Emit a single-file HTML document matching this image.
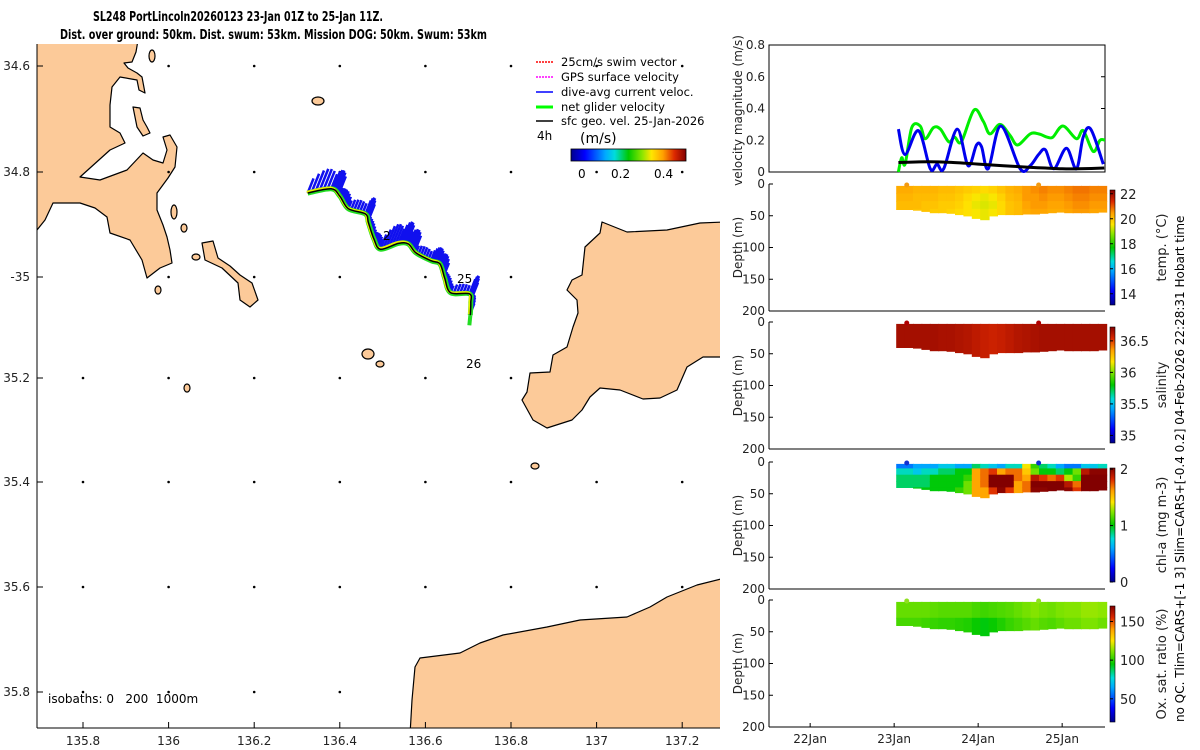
<!DOCTYPE html>
<html><head><meta charset="utf-8">
<style>
html,body{margin:0;padding:0;background:#fff;}
svg{display:block;font-family:"DejaVu Sans","Liberation Sans",sans-serif;}
</style></head>
<body>
<svg id="fig" width="1200" height="750" viewBox="0 0 1200 750" xmlns="http://www.w3.org/2000/svg">
<defs>
<linearGradient id="jetH" x1="0" y1="0" x2="1" y2="0">
<stop offset="0" stop-color="#00008c"/><stop offset="0.12" stop-color="#0000ff"/><stop offset="0.3" stop-color="#00aaff"/><stop offset="0.38" stop-color="#00dcdc"/><stop offset="0.5" stop-color="#00c800"/><stop offset="0.62" stop-color="#8ce600"/><stop offset="0.7" stop-color="#ffe600"/><stop offset="0.8" stop-color="#ffa000"/><stop offset="0.9" stop-color="#dc2800"/><stop offset="1" stop-color="#820000"/>
</linearGradient>
<linearGradient id="jetV" x1="0" y1="1" x2="0" y2="0">
<stop offset="0" stop-color="#00008c"/><stop offset="0.12" stop-color="#0000ff"/><stop offset="0.3" stop-color="#00aaff"/><stop offset="0.38" stop-color="#00dcdc"/><stop offset="0.5" stop-color="#00c800"/><stop offset="0.62" stop-color="#8ce600"/><stop offset="0.7" stop-color="#ffe600"/><stop offset="0.8" stop-color="#ffa000"/><stop offset="0.9" stop-color="#dc2800"/><stop offset="1" stop-color="#820000"/>
</linearGradient>
</defs>

<text x="93" y="21" font-size="13" font-weight="bold" textLength="290" lengthAdjust="spacingAndGlyphs">SL248 PortLincoln20260123 23-Jan 01Z to 25-Jan 11Z.</text>
<text x="60" y="39" font-size="13" font-weight="bold" textLength="427" lengthAdjust="spacingAndGlyphs">Dist. over ground: 50km. Dist. swum: 53km. Mission DOG: 50km. Swum: 53km</text>

<g>
<clipPath id="mapclip"><rect x="37" y="44" width="683" height="684"/></clipPath>
<g clip-path="url(#mapclip)" fill="#fcca99" stroke="#000" stroke-width="1.2" stroke-linejoin="round">
<polygon points="30,40 138,40 136,52 132,62 124,63 128,68 137,73 142,77 145,93 139,90 137,80 120,77 112,87 110,105 110,127 120,133 125,143 110,150 80,177 100,180 127,170 143,153 153,160 163,163 167,150 163,137 170,135 177,147 175,167 168,178 157,193 157,210 163,225 167,237 170,250 172,263 160,268 147,278 142,260 130,240 110,233 107,217 95,208 80,203 53,203 45,220 37,230 30,230"/>
<polygon points="133,107 140,108 143,120 147,127 150,133 143,136 137,127"/>
<polygon points="202,243 213,241 218,258 230,266 240,275 252,283 258,300 250,307 240,300 238,283 222,268 205,260"/>
<ellipse cx="174" cy="212" rx="3" ry="7"/>
<ellipse cx="184" cy="228" rx="3" ry="4"/>
<ellipse cx="196" cy="257" rx="4" ry="3"/>
<ellipse cx="158" cy="290" rx="3" ry="4"/>
<ellipse cx="152" cy="56" rx="3" ry="6"/>
<ellipse cx="318" cy="101" rx="6" ry="4"/>
<ellipse cx="368" cy="354" rx="6" ry="5"/>
<ellipse cx="380" cy="364" rx="4" ry="3"/>
<ellipse cx="187" cy="388" rx="3" ry="4"/>
<ellipse cx="535" cy="466" rx="4" ry="3"/>
<polygon points="602,222 627,232 667,230 700,223 725,222 725,357 703,357 687,367 677,390 660,398 643,399 620,390 600,388 590,397 582,410 572,420 547,428 533,420 522,400 527,392 530,373 550,372 553,355 567,347 573,327 578,313 577,300 567,290 572,280 582,275 585,247 600,233"/>
<polygon points="410,735 412,700 415,667 420,658 460,653 480,643 503,635 547,627 580,620 627,617 650,607 667,597 697,585 725,578 725,735"/>
</g>
<g id="isodots" fill="#000"></g>
<g id="track"></g>
<line x1="37" y1="44" x2="37" y2="728" stroke="#000" stroke-width="1"/>
<line x1="37" y1="728" x2="720" y2="728" stroke="#000" stroke-width="1"/>
<g id="mapticks" font-size="12" fill="#222"></g>
<text x="383" y="240" font-size="12">2</text>
<text x="457" y="283" font-size="12">25</text>
<text x="466" y="368" font-size="12">26</text>
<text x="48" y="703" font-size="12" style="white-space:pre" xml:space="preserve">isobaths: 0   200  1000m</text>
<g font-size="11.5">
<line x1="553" y1="62" x2="536" y2="62" stroke="#f00" stroke-width="1.5" stroke-dasharray="2,1"/><text x="561" y="66">25cm/s swim vector</text>
<line x1="553" y1="77" x2="536" y2="77" stroke="#f0f" stroke-width="1.5" stroke-dasharray="2,1"/><text x="561" y="81">GPS surface velocity</text>
<line x1="553" y1="92" x2="536" y2="92" stroke="#00f" stroke-width="1.5"/><text x="561" y="96">dive-avg current veloc.</text>
<line x1="553" y1="107" x2="536" y2="107" stroke="#0f0" stroke-width="3"/><text x="561" y="111">net glider velocity</text>
<line x1="553" y1="121" x2="536" y2="121" stroke="#000" stroke-width="1.5"/><text x="561" y="125">sfc geo. vel. 25-Jan-2026</text>
<text x="537" y="140" font-size="12">4h</text>
<text x="580" y="143" font-size="14">(m/s)</text>
<rect x="571" y="149" width="115" height="12" fill="url(#jetH)" stroke="#000" stroke-width="0.8"/>
<text x="578" y="178" font-size="12">0</text><text x="611" y="178" font-size="12">0.2</text><text x="654" y="178" font-size="12">0.4</text>
</g>
</g>

<g id="right"></g>

<text transform="translate(1184,722) rotate(-90)" font-size="12">no QC. Tlim=CARS+[-1 3] Slim=CARS+[-0.4 0.2] 04-Feb-2026 22:28:31 Hobart time</text>
</svg>

<script>
// ---------- data ----------
const velBlueT = [23.05,23.13,23.29,23.43,23.51,23.59,23.75,23.88,23.98,24.04,24.12,24.27,24.50,24.62,24.72,24.80,24.90,25.05,25.17,25.25,25.34,25.49];
const velBlueV = [0.27,0.11,0.26,0.02,0.05,0.02,0.27,0.04,0.17,0.16,0.02,0.29,0.02,0.04,0.11,0.14,0.02,0.15,0.02,0.22,0.27,0.05];
const velGreenT = [23.05,23.09,23.13,23.21,23.31,23.37,23.47,23.55,23.65,23.72,23.80,23.95,24.06,24.14,24.26,24.38,24.47,24.62,24.72,24.82,24.89,25.01,25.17,25.25,25.37,25.45,25.51];
const velGreenV = [0.0,0.09,0.05,0.28,0.29,0.21,0.28,0.27,0.19,0.22,0.19,0.39,0.32,0.24,0.30,0.23,0.17,0.24,0.24,0.22,0.22,0.29,0.21,0.26,0.13,0.20,0.20];
const velBlackT = [23.05,23.4,23.7,24.0,24.3,24.6,24.8,25.0,25.2,25.5];
const velBlackV = [0.06,0.065,0.06,0.05,0.04,0.03,0.025,0.02,0.02,0.025];
const velTicks = [0,0.2,0.4,0.6,0.8];
const dayTicks = [22,23,24,25];
const dayLabels = ["22Jan","23Jan","24Jan","25Jan"];
const depthTicks = [0,50,100,150,200];

const secT = [23.08,23.18,23.28,23.38,23.48,23.58,23.68,23.78,23.88,23.98,24.08,24.18,24.28,24.38,24.48,24.58,24.68,24.78,24.88,24.98,25.08,25.18,25.28,25.38,25.48];
const secBottom = [40,40,41,43,45,45,46,48,50,54,56,50,48,48,48,47,47,46,45,44,45,45,45,45,44];

const tempR0 = [20.3,20.3,20.2,20.2,20.2,20.1,20.1,20.0,19.9,19.8,19.7,19.8,20.0,20.2,20.3,20.5,20.6,20.7,20.6,20.6,20.7,20.8,20.8,20.7,20.7];
const tempR1 = [20.2,20.2,20.1,20.1,20.1,20.0,20.0,19.9,19.7,19.5,19.4,19.5,19.8,20.1,20.2,20.5,20.5,20.6,20.5,20.5,20.6,20.7,20.7,20.6,20.6];
const tempR2 = [20.1,20.1,20.1,20.0,20.0,19.9,19.9,19.8,19.6,19.4,19.3,19.4,19.7,20.0,20.1,20.4,20.5,20.5,20.4,20.4,20.5,20.6,20.6,20.5,20.5];
const tempR3 = [20.1,20.1,20.0,20.0,19.9,19.9,19.8,19.7,19.6,19.5,19.4,19.5,19.7,20.0,20.1,20.3,20.4,20.4,20.3,20.3,20.4,20.5,20.5,20.4,20.4];

const salR0 = [36.65,36.65,36.65,36.65,36.65,36.64,36.64,36.63,36.62,36.6,36.58,36.57,36.58,36.6,36.62,36.63,36.64,36.65,36.65,36.65,36.65,36.65,36.65,36.65,36.65];

const chlR0 = [0.5,0.5,0.6,0.6,0.6,0.7,0.7,0.6,0.6,0.9,0.8,0.7,0.6,0.8,0.8,1.4,1.1,0.9,0.8,0.6,0.5,0.5,0.7,0.7,0.8];
const chlR1 = [0.8,0.8,0.7,0.8,0.8,0.9,0.9,1.0,1.0,1.6,1.7,1.8,1.6,1.7,1.7,1.5,1.2,1.0,1.0,0.9,1.0,1.2,1.9,2.0,2.0];
const chlR2 = [0.9,0.9,0.9,0.9,1.0,1.0,1.0,1.0,1.1,1.6,1.7,2.1,2.1,2.1,1.7,1.6,1.9,1.8,1.7,1.8,1.3,1.1,2.1,2.1,2.1];
const chlR3 = [0.9,0.9,0.9,0.9,1.0,1.0,1.0,1.0,1.2,1.6,1.7,2.1,2.1,2.1,1.6,1.7,2.1,2.1,2.1,2.1,1.9,1.7,2.1,2.1,2.1];
const chlR4 = [1.0,1.0,1.0,1.0,1.0,1.0,1.0,1.1,1.2,1.6,1.6,1.8,2.0,1.8,1.6,1.7,2.0,2.0,2.1,2.1,2.0,1.8,2.1,2.1,2.1];

const oxyR0 = [108,108,108,108,107,106,106,106,106,104,103,104,105,106,108,110,112,110,109,111,112,112,114,114,113];
const oxyR1 = [104,104,104,103,102,101,101,100,99,96,94,96,99,102,104,106,108,106,105,107,109,109,111,111,109];

const tempTicks=[14,16,18,20,22], salTicks=[35,35.5,36,36.5], chlTicks=[0,1,2], oxyTicks=[50,100,150];

// ---------- helpers ----------
const NS="http://www.w3.org/2000/svg";
const right=document.getElementById('right');
function mk(tag,attrs,parent){const e=document.createElementNS(NS,tag);for(const k in attrs)e.setAttribute(k,attrs[k]);(parent||right).appendChild(e);return e;}
const CM=[[0,0,0,140],[0.12,0,0,255],[0.3,0,170,255],[0.38,0,220,220],[0.5,0,200,0],[0.62,140,230,0],[0.7,255,230,0],[0.8,255,160,0],[0.9,220,40,0],[1,130,0,0]];
function jet(f){f=Math.max(0,Math.min(1,f));
 for(let i=0;i<CM.length-1;i++){const a=CM[i],b=CM[i+1];
  if(f<=b[0]){const u=(f-a[0])/(b[0]-a[0]);
   return `rgb(${Math.round(a[1]+(b[1]-a[1])*u)},${Math.round(a[2]+(b[2]-a[2])*u)},${Math.round(a[3]+(b[3]-a[3])*u)})`;}}
 return 'rgb(130,0,0)';}
function smoothPath(P){
 let d='M'+P[0][0].toFixed(1)+','+P[0][1].toFixed(1);
 for(let i=0;i<P.length-1;i++){
  const p0=P[Math.max(0,i-1)],p1=P[i],p2=P[i+1],p3=P[Math.min(P.length-1,i+2)];
  const c1=[p1[0]+(p2[0]-p0[0])/6,p1[1]+(p2[1]-p0[1])/6];
  const c2=[p2[0]-(p3[0]-p1[0])/6,p2[1]-(p3[1]-p1[1])/6];
  d+=` C${c1[0].toFixed(1)},${c1[1].toFixed(1)} ${c2[0].toFixed(1)},${c2[1].toFixed(1)} ${p2[0].toFixed(1)},${p2[1].toFixed(1)}`;
 }
 return d;}
const X0=769,X1=1105;
const xDay=d=>X0+(d-21.51)*84;

// ---------- velocity panel ----------
const vTop=45,vBot=172;
const yVel=v=>vBot-v/0.8*(vBot-vTop);
const vbox=mk('rect',{x:X0,y:vTop,width:X1-X0,height:vBot-vTop,fill:'none',stroke:'#000','stroke-width':1});


velTicks.forEach(v=>{
 const t=mk('text',{x:X0-4,y:yVel(v)+4,'font-size':12,'text-anchor':'end',fill:'#222'});t.textContent=String(v);
 
 
 mk('line',{x1:X1-4,x2:X1,y1:yVel(v),y2:yVel(v),stroke:'#000'});
});
const vl=mk('text',{transform:`translate(742,${(vTop+vBot)/2+2}) rotate(-90)`,'font-size':12,'text-anchor':'middle',fill:'#222'});vl.textContent='velocity magnitude (m/s)';


function series(T,V,color,w,name){
 const P=T.map((t,i)=>[xDay(t),yVel(V[i])]);
 const p=mk('path',{d:smoothPath(P),fill:'none',stroke:color,'stroke-width':w,'stroke-linejoin':'round'});
 
 
}
series(velGreenT,velGreenV,'#00ee00',3,'net-glider-velocity-line');
series(velBlueT,velBlueV,'#0000ee',3,'dive-avg-current-line');
series(velBlackT,velBlackV,'#000',3,'sfc-geo-velocity-line');

// ---------- section panels ----------
function section(top,bot,rows,edges,vmin,vmax,cbTop,cbBot,ticks,label,name,dotColor){
 const yD=d=>top+d/200*(bot-top);
 const g=mk('g',{});
 
 
 secT.forEach((t,i)=>{
  const xa=xDay(t-0.05)-0.5, xb=xDay(t+0.05)+0.5;
  rows.forEach((row,r)=>{
   const last=(r===rows.length-1);
   const d0=edges[r];
   const d1= last? secBottom[i] : Math.min(edges[r+1], secBottom[i]);
   if(d1<=d0) return;
   const c=mk('rect',{x:xa.toFixed(1),y:yD(d0).toFixed(1),width:(xb-xa).toFixed(1),height:(yD(d1)-yD(d0)+0.6).toFixed(1),fill:jet((row[i]-vmin)/(vmax-vmin))},g);
   
   
  });
 });
 [23.15,24.72].forEach(t=>{
  const c=mk('circle',{cx:xDay(t),cy:top+1,r:2.5,fill:dotColor},g);
  
  
 });
 mk('line',{x1:X0,x2:X0,y1:top,y2:bot,stroke:'#000'});
 mk('line',{x1:X0,x2:X1,y1:bot,y2:bot,stroke:'#000'});
 depthTicks.forEach(d=>{
  const t=mk('text',{x:X0-4,y:yD(d)+4,'font-size':12,'text-anchor':'end',fill:'#222'});t.textContent=String(d);
  
  
  mk('line',{x1:X0,x2:X0+4,y1:yD(d),y2:yD(d),stroke:'#000'});
 });
 const dl=mk('text',{transform:`translate(742,${(top+bot)/2}) rotate(-90)`,'font-size':12,'text-anchor':'middle',fill:'#222'});dl.textContent='Depth (m)';
 
 
 const cb=mk('rect',{x:1110,y:cbTop,width:5,height:cbBot-cbTop,fill:'url(#jetV)',stroke:'#000','stroke-width':0.6});
 
 
 ticks.forEach(v=>{
  const y=cbBot-(v-vmin)/(vmax-vmin)*(cbBot-cbTop);
  mk('line',{x1:1110,x2:1113,y1:y,y2:y,stroke:'#000'});
  const t=mk('text',{x:1120,y:y+5,'font-size':13,fill:'#222'});t.textContent=String(v);
  
  
 });
 const cl=mk('text',{transform:`translate(1166,${(cbTop+cbBot)/2}) rotate(-90)`,'font-size':13,'text-anchor':'middle',fill:'#222'});cl.textContent=label;
 
 
}
section(184,311,[tempR0,tempR1,tempR2,tempR3],[3,15,27,39],13.1,22.3,190,305,tempTicks,'temp. (°C)','temperature','#f39a10');
section(322,449,[salR0],[3],34.88,36.72,327,443,salTicks,'salinity','salinity','#b00000');
section(462,589,[chlR0,chlR1,chlR2,chlR3,chlR4],[3,10,20,30,40],0,2.02,468,582,chlTicks,'chl-a (mg m-3)','chlorophyll','#1030d0');
section(600,727,[oxyR0,oxyR1],[3,28],20,170,606,722,oxyTicks,'Ox. sat. ratio (%)','oxygen','#90e020');
dayTicks.forEach((d,i)=>{
 mk('line',{x1:xDay(d),x2:xDay(d),y1:727,y2:723,stroke:'#000'});
 const t=mk('text',{x:xDay(d),y:743,'font-size':12,'text-anchor':'middle',fill:'#222'});t.textContent=dayLabels[i];
 
 
});

// ---------- map ticks ----------
const lonTicks=[135.8,136,136.2,136.4,136.6,136.8,137,137.2];
const latTicks=[34.6,34.8,-35,35.2,35.4,35.6,35.8];
const lonX=l=>83+(l-135.8)/0.2*85.6;
const latYs=[66,172,277,378,482,587,692];
const mt=document.getElementById('mapticks');
lonTicks.forEach(l=>{
 const x=lonX(l);
 const t=mk('text',{x:x,y:745,'text-anchor':'middle'},mt);t.textContent=String(l);
 
 
 mk('line',{x1:x,x2:x,y1:728,y2:722,stroke:'#000'},mt);
});
latTicks.forEach((l,i)=>{
 const t=mk('text',{x:30,y:latYs[i]+4,'text-anchor':'end'},mt);t.textContent=String(l);
 
 
 mk('line',{x1:37,x2:43,y1:latYs[i],y2:latYs[i],stroke:'#000'},mt);
});
const dots=document.getElementById('isodots');
lonTicks.forEach(l=>latYs.forEach(y=>{
 const x=lonX(l);
 if(x<150&&y<300) return;
 if(x>520&&y>210&&y<430) return;
 if(x>410&&y>640) return;
 const c=mk('circle',{cx:x,cy:y,r:1.3},dots);
 
 
}));

// ---------- glider track ----------
const trackLon=[136.325,136.38,136.40,136.42,136.46,136.467,136.48,136.495,136.537,136.56,136.578,136.613,136.634,136.645,136.659,136.703,136.706,136.705];
const trackLat=[34.84,34.832,34.846,34.87,34.88,34.897,34.928,34.947,34.936,34.937,34.954,34.969,34.975,35.002,35.03,35.032,35.049,35.073];
const tr=document.getElementById('track');
const tx=l=>lonX(l), ty=l=>172+(l-34.8)/0.2*105;
const tp=trackLon.map((l,i)=>[tx(l),ty(trackLat[i])]);
const lobe=[1,1,0.4,0.4,0.9,0.2,0.3,1,1,0.8,0.3,0.6,0.6,0.2,0.3,1,0.4];
for(let i=0;i<tp.length-1;i++){
 for(let k=0;k<6;k++){
  const f=k/6;
  const x=tp[i][0]+(tp[i+1][0]-tp[i][0])*f, y=tp[i][1]+(tp[i+1][1]-tp[i][1])*f;
  const len=4+18*lobe[i]*Math.sin(Math.PI*(0.2+0.6*f));
  const ln=mk('line',{x1:x,y1:y,x2:x+len*0.4,y2:y-len,stroke:'#1010ee','stroke-width':2.5},tr);
  
  
 }
}
const pathD=smoothPath(tp);
const g1=mk('path',{d:pathD,fill:'none',stroke:'#22dd22','stroke-width':5,'stroke-linejoin':'round'},tr);


const g2=mk('path',{d:pathD,fill:'none',stroke:'#e8f000','stroke-width':2.5,'stroke-linejoin':'round',transform:'translate(-1,-1)'},tr);


const g3=mk('path',{d:pathD,fill:'none',stroke:'#000','stroke-width':1.5,'stroke-linejoin':'round'},tr);


const tail=mk('line',{x1:tp[tp.length-1][0],y1:tp[tp.length-1][1],x2:tp[tp.length-1][0]-1,y2:tp[tp.length-1][1]+10,stroke:'#22dd22','stroke-width':4},tr);


</script>
</body></html>
